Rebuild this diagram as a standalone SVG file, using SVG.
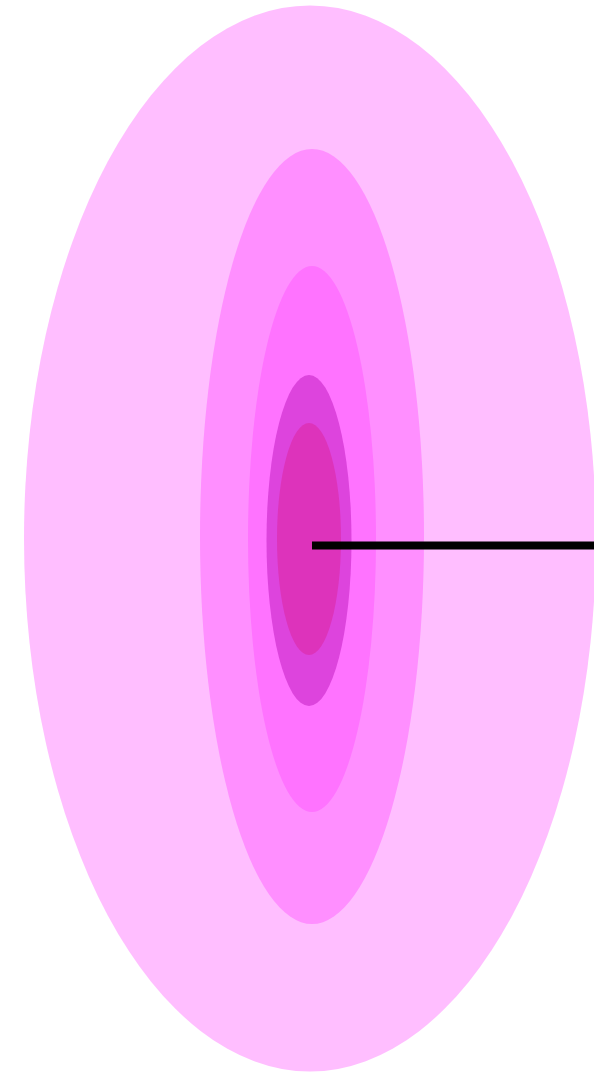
<svg xmlns="http://www.w3.org/2000/svg" width="594" height="1072" viewBox="0 0 594 1072">
<style>
.l1{fill:#ffbeff}.l2{fill:#ff8fff}.l3{fill:#ff73ff}.l4{fill:#dd44dd}.l5{fill:#dd33bb}
.ray{stroke:#000;stroke-width:8;fill:none}
</style>
<rect width="594" height="1072" fill="#fff"/>
<g id="layer1"><ellipse class="l1" cx="310" cy="538.5" rx="286" ry="533"/></g>
<g id="layer2"><ellipse class="l2" cx="312" cy="536.5" rx="112" ry="387.5"/></g>
<g id="layer3"><ellipse class="l3" cx="312" cy="539" rx="64" ry="273"/></g>
<g id="layer4"><ellipse class="l4" cx="309" cy="540.5" rx="42.5" ry="165.5"/></g>
<g id="layer5"><ellipse class="l5" cx="309" cy="539" rx="32" ry="116"/></g>
<g id="connectors"><line class="ray" x1="312" y1="545.5" x2="594" y2="545.5"/></g>
</svg>
